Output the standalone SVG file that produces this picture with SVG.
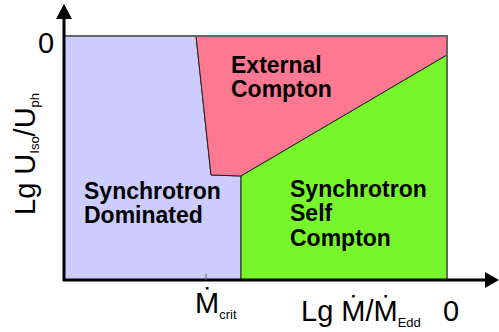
<svg xmlns="http://www.w3.org/2000/svg" width="499" height="332" viewBox="0 0 499 332">
<style>
.reg{stroke:#222;stroke-width:1}
.lbl{font-family:"Liberation Sans",Arial,"DejaVu Sans",sans-serif;font-weight:bold;font-size:23px;fill:#000}
.ax{font-family:"Liberation Sans",Arial,"DejaVu Sans",sans-serif;font-size:29px;fill:#000}
.sub{font-size:13px}
</style>
<rect width="499" height="332" fill="#fff"/>
<g id="synchrotron-dominated">
<polygon class="reg" points="64,36 196,36 211,175 241,176 241,280 64,280" fill="#ccccff"/>
<text class="lbl" x="84" y="199">Synchrotron</text>
<text class="lbl" x="84" y="223">Dominated</text>
</g>
<g id="external-compton">
<polygon class="reg" points="196,36 447,36 447,55 241,176 211,175" fill="#ff7891"/>
<text class="lbl" x="231" y="73">External</text>
<text class="lbl" x="231" y="97">Compton</text>
</g>
<g id="ssc">
<polygon class="reg" points="241,176 447,55 447,280 241,280" fill="#77f72b"/>
<text class="lbl" x="290" y="197">Synchrotron</text>
<text class="lbl" x="290" y="221">Self</text>
<text class="lbl" x="290" y="246">Compton</text>
</g>
<g id="frame" fill="none" stroke="#666" stroke-width="2">
<polyline points="64,36 447,36 447,280"/>
</g>
<g id="connectors">
<line x1="64" y1="281" x2="64" y2="16" stroke="#000" stroke-width="3"/>
<polygon points="56,19 72,19 64,4" fill="#000"/>
<line x1="63" y1="280" x2="487" y2="280" stroke="#000" stroke-width="3"/>
<polygon points="485,272 485,288 499,280" fill="#000"/>
<line x1="206" y1="274" x2="206" y2="280" stroke="#666" stroke-width="1"/>
</g>
<g id="labels">
<text class="ax" x="38" y="53" font-size="28">0</text>
<text class="ax" font-size="30" transform="translate(35,215) rotate(-90)">Lg U<tspan class="sub" dy="4">Iso</tspan><tspan dy="-4">/U</tspan><tspan class="sub" dy="4">ph</tspan></text>
<text class="ax" x="195" y="313" font-size="25">Ṁ<tspan class="sub" dy="6">crit</tspan></text>
<text class="ax" x="301" y="321">Lg Ṁ/Ṁ<tspan class="sub" dy="6">Edd</tspan></text>
<text class="ax" x="443" y="321" font-size="28">0</text>
</g>
</svg>
